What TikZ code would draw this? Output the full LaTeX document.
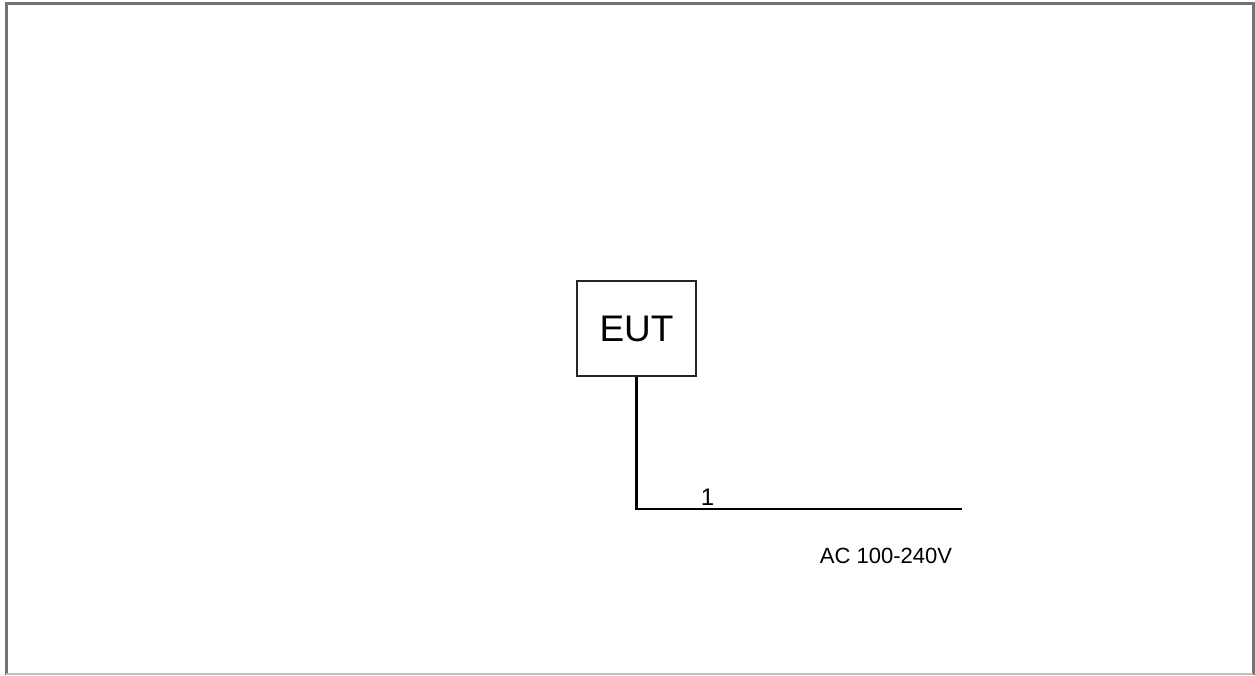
\documentclass[tikz,border=0pt]{standalone}
\usepackage{fontspec}
\setmainfont{Liberation Sans}
\begin{document}
\begin{tikzpicture}[x=1pt,y=-1pt,
  frameline/.style={draw=black!55,line width=3pt},
  eutbox/.style={draw=black!85,line width=2pt,minimum width=119pt,minimum height=95pt,inner sep=0pt,text height=26pt,text depth=-2pt,font=\fontsize{37}{40}\selectfont},
  wire/.style={draw=black,line width=2.2pt},
  lbl/.style={inner sep=0pt,anchor=base}]
\useasboundingbox (0,0) rectangle (1255,675);
\fill[white] (0,0) rectangle (1255,675);
\draw[frameline] (6,675) -- (6,3) -- (1253,3) -- (1253,675);
\draw[draw=black!25,line width=2pt] (6,674) -- (1253,674);
\node[eutbox] (eut) at (636.5,328.5) {EUT};
\coordinate (bend) at (eut.south |- 0,509);
\coordinate (wend) at (962,509);
\draw[wire] (eut.south) -- (bend) -- (wend);
\node[lbl,font=\fontsize{24}{26}\selectfont] (n1) at (707.5,505) {1};
\node[lbl,font=\fontsize{22}{24}\selectfont] (ac) at (886,563) {AC 100-240V};
\end{tikzpicture}
\end{document}
